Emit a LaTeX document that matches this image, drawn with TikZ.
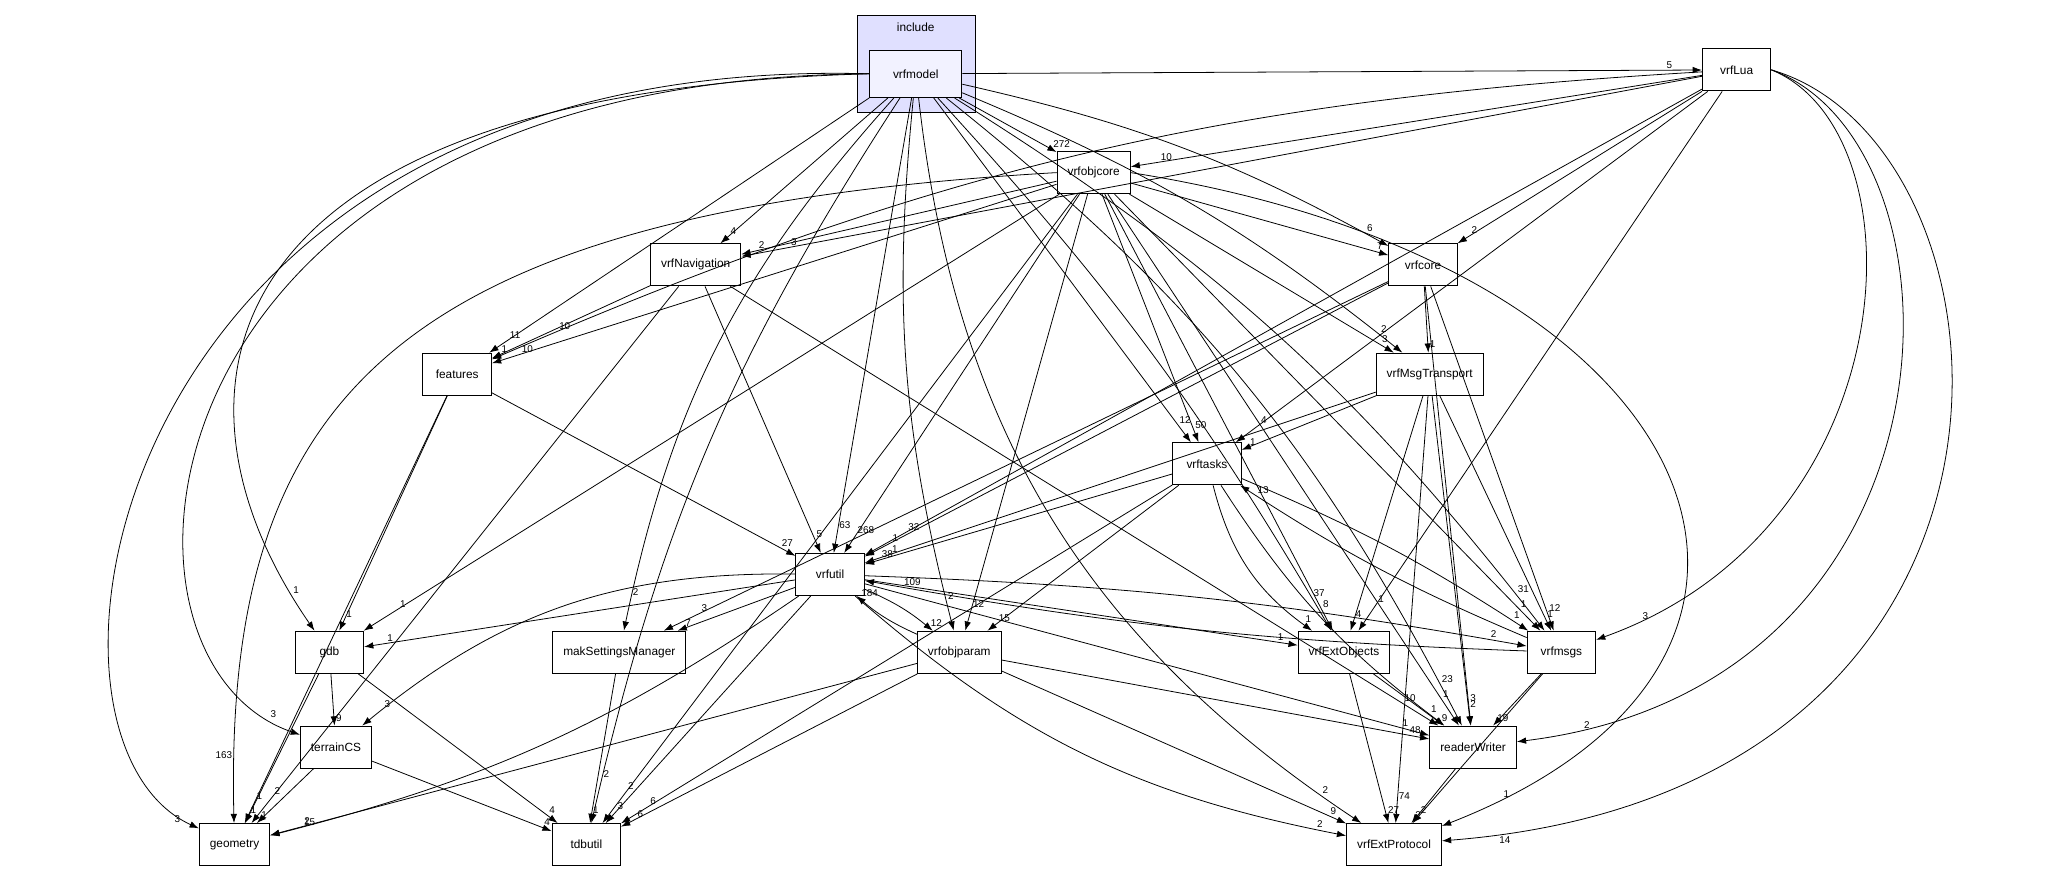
\documentclass[tikz,border=0pt]{standalone}
\usepackage{fontspec}
\setmainfont{Liberation Sans}
\usetikzlibrary{arrows.meta}
\newcommand\EE[4][]{\draw[e,#1] (#2) to node[lbl,pos=.95]{#4} (#3);}
\begin{document}
\begin{tikzpicture}[x=1pt,y=-1pt,
 n/.style={draw,fill=white,minimum height=32pt,minimum width=52pt,inner xsep=8pt,inner ysep=4pt,font=\fontsize{9}{10}\selectfont,line width=0.7pt},
 e/.style={-{Latex[length=7pt,width=5pt]},line width=0.6pt},
 lbl/.style={font=\fontsize{7.5}{8}\selectfont,inner sep=1pt,anchor=south west}]
\useasboundingbox (0,0) rectangle (1568,662);
\fill[fill=blue!12!white,draw=black,line width=0.6pt] (651,12) rectangle (740,85);
\node[font=\fontsize{9}{10}\selectfont] at (695,21) {include};
\node[n,fill=blue!5!white,minimum height=36pt,minimum width=70pt] (vm) at (695,56) {vrfmodel};
\node[n] (lua) at (1318,53) {vrfLua};
\node[n] (oc) at (830,131) {vrfobjcore};
\node[n] (nav) at (528,201) {vrfNavigation};
\node[n] (core) at (1080,201) {vrfcore};
\node[n] (feat) at (347,284) {features};
\node[n] (mt) at (1085,284) {vrfMsgTransport};
\node[n] (tasks) at (916,352) {vrftasks};
\node[n] (util) at (630,436) {vrfutil};
\node[n] (gdb) at (250,495) {gdb};
\node[n] (mak) at (470,495) {makSettingsManager};
\node[n] (op) at (728,495) {vrfobjparam};
\node[n] (eo) at (1020,495) {vrfExtObjects};
\node[n] (msgs) at (1185,495) {vrfmsgs};
\node[n] (tcs) at (255,567) {terrainCS};
\node[n] (rw) at (1118,567) {readerWriter};
\node[n] (geo) at (178,641) {geometry};
\node[n] (tdb) at (445,641) {tdbutil};
\node[n] (ep) at (1058,641) {vrfExtProtocol};
% vrfmodel
\EE{vm}{lua}{5}
\EE{vm}{oc}{272}
\EE{vm}{nav}{4}
\EE[bend left=8]{vm}{core}{6}
\EE{vm.south west}{feat}{11}
\EE[bend left=8]{vm}{mt}{2}
\EE{vm}{tasks}{12}
\EE{vm}{util}{63}
\draw[e] (vm.west) .. controls (150,70) and (115,300) .. node[lbl,pos=.95]{1} (gdb);
\EE[bend right=15]{vm}{mak}{2}
\EE[bend right=10]{vm}{op}{2}
\EE[bend left=6]{vm}{eo}{37}
\EE[bend left=10]{vm}{msgs}{31}
\draw[e] (vm.west) .. controls (100,60) and (60,500) .. node[lbl,pos=.95]{3} (tcs);
\EE[bend left=12]{vm}{rw}{23}
\draw[e] (vm.west) .. controls (80,40) and (0,560) .. node[lbl,pos=.97,anchor=east]{3} (geo);
\EE[bend right=10]{vm}{tdb}{2}
\EE[bend right=25]{vm}{ep}{2}
% vrfLua
\EE{lua}{oc}{10}
\EE{lua}{nav}{3}
\EE{lua}{core}{2}
\EE[bend right=10]{lua}{feat}{10}
\EE{lua}{tasks}{4}
\EE{lua}{util}{32}
\EE{lua}{eo}{1}
\draw[e] (lua.east) .. controls (1460,100) and (1450,400) .. node[lbl,pos=.95]{3} (msgs);
\draw[e] (lua.east) .. controls (1500,110) and (1500,520) .. node[lbl,pos=.95]{2} (rw);
\draw[e] (lua.east) .. controls (1540,110) and (1580,600) .. node[lbl,pos=.97,anchor=north west]{14} (ep);
% vrfobjcore
\EE{oc}{nav}{2}
\EE{oc}{core}{7}
\EE{oc}{feat}{10}
\EE{oc}{mt}{3}
\EE{oc}{tasks}{50}
\EE{oc}{util}{268}
\EE{oc}{gdb}{1}
\EE{oc}{op}{12}
\EE{oc}{eo}{8}
\EE{oc}{msgs}{1}
\EE{oc}{rw}{1}
\draw[e] (oc.west) .. controls (300,160) and (170,300) .. node[lbl,pos=.95,anchor=south east]{163} (geo);
\EE{oc}{tdb}{2}
\draw[e] (oc.east) .. controls (1300,200) and (1420,500) .. node[lbl,pos=.95]{1} (ep);
% vrfNavigation
\EE{nav}{feat}{1}
\EE{nav}{util}{5}
\EE{nav}{geo}{2}
\EE{nav}{rw}{10}
% vrfcore
\EE{core}{mt}{1}
\EE{core}{util}{1}
\EE{core}{mak}{3}
\EE{core}{msgs}{12}
\EE{core}{rw}{3}
% features
\EE{feat}{util}{27}
\EE{feat}{gdb}{1}
\EE{feat}{geo}{1}
% vrfMsgTransport
\EE{mt}{tasks}{1}
\EE{mt}{util}{1}
\EE{mt}{eo}{4}
\EE{mt}{msgs}{1}
\EE{mt}{rw}{2}
\EE{mt}{ep}{74}
% vrftasks
\EE{tasks}{util}{38}
\EE{tasks}{op}{15}
\EE[bend right=20]{tasks}{eo}{1}
\EE[bend left=5]{tasks}{msgs}{1}
\EE[bend right=10]{tasks}{rw}{1}
\EE{tasks}{tdb}{6}
% vrfutil
\EE{util}{gdb}{1}
\EE{util}{mak}{7}
\EE[bend left=8]{util}{op}{12}
\EE{util}{eo}{1}
\EE[bend left=4]{util}{msgs}{2}
\EE[bend right=20]{util}{tcs}{3}
\EE{util}{rw}{1}
\EE[bend left=10]{util}{geo}{15}
\EE{util}{tdb}{3}
\EE[bend right=15]{util}{ep}{2}
% vrfobjparam
\EE[bend left=8]{op}{util}{184}
\EE{op}{rw}{48}
\EE{op}{geo}{2}
\EE{op}{tdb}{6}
\EE{op}{ep}{9}
% vrfmsgs
\EE[bend left=5]{msgs}{tasks}{13}
\EE[bend left=4]{msgs}{util}{109}
\EE{msgs}{rw}{19}
\EE{msgs}{ep}{2}
% rest
\EE{gdb}{tcs}{9}
\EE{gdb}{geo}{1}
\EE{gdb}{tdb}{4}
\EE{mak}{tdb}{1}
\EE{tcs}{geo}{1}
\EE{tcs}{tdb}{4}
\EE{eo}{rw}{9}
\EE{eo}{ep}{27}
\EE{rw}{ep}{2}
\end{tikzpicture}
\end{document}
